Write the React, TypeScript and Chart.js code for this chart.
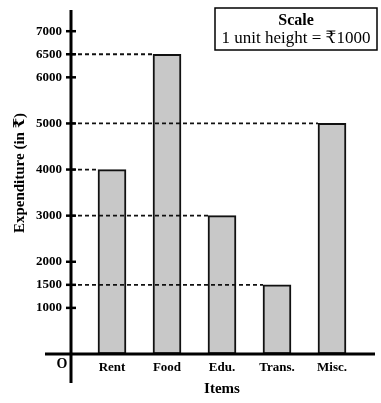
import { useEffect, useRef } from "react";
import { Chart, registerables } from "chart.js";

Chart.register(...registerables);

const categories = ["Rent", "Food", "Edu.", "Trans.", "Misc."];
const expenditure = [4000, 6500, 3000, 1500, 5000];
const yTickValues = [1000, 1500, 2000, 3000, 4000, 5000, 6000, 6500, 7000];
const yAxisTitle = "Expenditure (in ₹)";
const xAxisTitle = "Items";
const originLabel = "O";
const scaleTitle = "Scale";
const scaleNote = "1 unit height = ₹1000";

const SERIF = "'Liberation Serif', 'Times New Roman', 'DejaVu Serif', serif";

const overlayPlugin = {
  id: "overlay",
  afterDatasetsDraw(chart: any) {
    const { ctx, chartArea, scales } = chart;
    const x = scales.x;
    const y = scales.y;
    const axisX = chartArea.left;
    const axisY = y.getPixelForValue(0);
    const meta = chart.getDatasetMeta(0);

    ctx.save();
    // dashed guide lines
    ctx.strokeStyle = "#111";
    ctx.lineWidth = 1.8;
    ctx.setLineDash([4, 3]);
    expenditure.forEach((v, i) => {
      const el = meta.data[i];
      const py = y.getPixelForValue(v);
      const left = el.x - el.width / 2;
      ctx.beginPath();
      ctx.moveTo(axisX, py);
      ctx.lineTo(left, py);
      ctx.stroke();
    });
    ctx.setLineDash([]);

    // axes
    ctx.strokeStyle = "#000";
    ctx.lineWidth = 3;
    ctx.beginPath();
    ctx.moveTo(axisX, chartArea.top);
    ctx.lineTo(axisX, axisY + 29);
    ctx.stroke();
    ctx.beginPath();
    ctx.moveTo(axisX - 26, axisY);
    ctx.lineTo(chartArea.right, axisY);
    ctx.stroke();

    // tick marks crossing the axis
    ctx.lineWidth = 2.5;
    yTickValues.forEach((v) => {
      const py = y.getPixelForValue(v);
      ctx.beginPath();
      ctx.moveTo(axisX - 5, py);
      ctx.lineTo(axisX + 5, py);
      ctx.stroke();
    });

    ctx.fillStyle = "#000";
    // origin
    ctx.font = `bold 14px ${SERIF}`;
    ctx.textAlign = "center";
    ctx.textBaseline = "middle";
    ctx.fillText(originLabel, axisX - 9, axisY + 10);

    // x title
    ctx.font = `bold 15px ${SERIF}`;
    ctx.fillText(xAxisTitle, x.getPixelForValue(3), axisY + 35);

    // y title
    ctx.save();
    ctx.translate(20, 173);
    ctx.rotate(-Math.PI / 2);
    ctx.font = `bold 15px ${SERIF}`;
    ctx.fillText(yAxisTitle, 0, 0);
    ctx.restore();

    // scale box
    ctx.lineWidth = 1.5;
    ctx.strokeRect(215, 8, 162, 42);
    ctx.font = `bold 16px ${SERIF}`;
    ctx.fillText(scaleTitle, 296, 21);
    ctx.font = `17px ${SERIF}`;
    ctx.fillText(scaleNote, 296, 39);

    ctx.restore();
  },
};

export default function App() {
  const canvasRef = useRef<HTMLCanvasElement | null>(null);

  useEffect(() => {
    const canvas = canvasRef.current;
    if (!canvas) return;
    const chart = new Chart(canvas, {
      type: "bar",
      data: {
        datasets: [
          {
            data: expenditure.map((v, i) => ({ x: i + 1, y: v })),
            backgroundColor: "#c8c8c8",
            borderColor: "#111",
            borderWidth: 2,
            borderSkipped: false,
            barThickness: 28,
          },
        ],
      },
      options: {
        responsive: false,
        animation: false,
        events: [],
        layout: { padding: { top: 10, right: 6, left: 0, bottom: 0 } },
        plugins: { legend: { display: false }, tooltip: { enabled: false } },
        scales: {
          x: {
            type: "linear",
            offset: false,
            min: 0.2545,
            max: 5.782,
            grid: { display: false, drawTicks: false, offset: false },
            border: { display: false },
            afterBuildTicks: (scale: any) => {
              scale.ticks = categories.map((_, i) => ({ value: i + 1 }));
            },
            afterFit: (scale: any) => {
              scale.height = 49;
              scale.paddingLeft = 0;
              scale.paddingRight = 0;
            },
            ticks: {
              autoSkip: false,
              maxRotation: 0,
              padding: 6,
              color: "#000",
              font: { family: SERIF, size: 13, weight: "bold" },
              callback: (v: any) => categories[Math.round(Number(v)) - 1] ?? "",
            },
          },
          y: {
            min: 0,
            max: 7460,
            grid: { display: false, drawTicks: false },
            border: { display: false },
            afterBuildTicks: (scale: any) => {
              scale.ticks = yTickValues.map((v) => ({ value: v }));
            },
            afterFit: (scale: any) => {
              scale.width = 71;
              scale.paddingTop = 0;
              scale.paddingBottom = 0;
            },
            ticks: {
              padding: 9,
              color: "#000",
              font: { family: SERIF, size: 13, weight: "bold" },
              callback: (v: any) => String(v),
            },
          },
        },
      },
      plugins: [overlayPlugin],
    } as any);
    return () => chart.destroy();
  }, []);

  return (
    <div style={{ position: "fixed", left: 0, top: 0, width: 381, height: 403, background: "#fff" }}>
      <canvas ref={canvasRef} width={381} height={403} style={{ display: "block" }} />
    </div>
  );
}
